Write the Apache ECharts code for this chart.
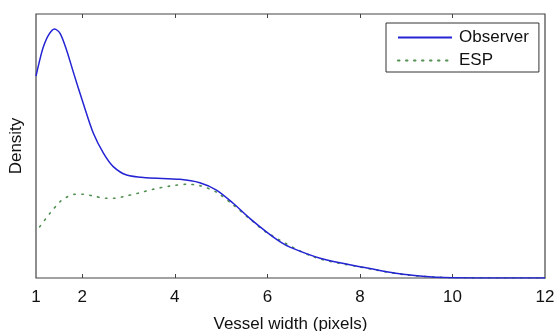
<!DOCTYPE html>
<html>
<head>
<meta charset="utf-8">
<script src="https://cdn.jsdelivr.net/npm/echarts@6/dist/echarts.min.js"></script>
<style>
  html, body { margin: 0; padding: 0; background: #fff; }
  #chart { width: 556px; height: 331px; }
</style>
</head>
<body>
<div id="chart"></div>
<script>
// vessel width (pixels) vs density
const obsX = [1.0, 1.09, 1.16, 1.27, 1.4, 1.52, 1.66, 1.81, 2.02, 2.24, 2.46, 2.67, 2.96, 3.39, 4.11, 4.54, 4.9, 5.26, 5.62, 6.0, 6.27, 6.5, 7.14, 8.0, 8.93, 9.67, 10.0, 11.0, 12.0];
const obsY = [0.765, 0.832, 0.876, 0.92, 0.943, 0.927, 0.864, 0.778, 0.662, 0.548, 0.472, 0.422, 0.39, 0.38, 0.374, 0.361, 0.333, 0.283, 0.226, 0.172, 0.138, 0.116, 0.075, 0.043, 0.014, 0.003, 0.001, 0.0, 0.0];
const espX = [1.08, 1.3, 1.52, 1.66, 1.84, 2.02, 2.2, 2.53, 2.71, 2.88, 3.2, 3.53, 3.89, 4.26, 4.54, 4.9, 5.26, 5.62, 6.0, 7.0, 8.0, 9.0, 10.0, 12.0];
const espY = [0.194, 0.245, 0.289, 0.306, 0.317, 0.317, 0.312, 0.302, 0.302, 0.308, 0.321, 0.336, 0.348, 0.355, 0.35, 0.325, 0.277, 0.224, 0.171, 0.08, 0.042, 0.012, 0.001, 0.0];
const xLabels = [1, 2, 4, 6, 8, 10, 12];
const xTicks = [2, 4, 6, 8, 10];

const zip = (xs, ys) => xs.map((x, i) => [x, ys[i]]);

const font = 'Liberation Sans, Arial, Helvetica, sans-serif';
const chart = echarts.init(document.getElementById('chart'), null, { renderer: 'canvas' });

const tickOpts = {
  show: true,
  inside: true,
  length: 4,
  customValues: xTicks,
  lineStyle: { color: '#444', width: 1 }
};

chart.setOption({
  animation: false,
  grid: {
    left: 36, right: 11, top: 14, bottom: 53,
    outerBoundsMode: 'none',
    show: true, borderColor: '#444', borderWidth: 1.2
  },
  legend: {
    orient: 'vertical',
    left: 386, top: 23,
    padding: [6, 10, 3, 11],
    itemWidth: 54, itemHeight: 17, itemGap: 6,
    borderColor: '#333', borderWidth: 1,
    backgroundColor: '#fff',
    itemStyle: { opacity: 0 },
    textStyle: { fontFamily: font, fontSize: 17, color: '#111', lineHeight: 17, padding: [0, 0, 0, 2] },
    data: ['Observer', 'ESP']
  },
  xAxis: [{
    type: 'value', min: 1, max: 12,
    name: 'Vessel width (pixels)', nameLocation: 'middle', nameGap: 38,
    nameTextStyle: { fontFamily: font, fontSize: 17, color: '#111' },
    axisLine: { show: false },
    axisTick: tickOpts,
    axisLabel: { customValues: xLabels, fontFamily: font, fontSize: 17, color: '#111', margin: 11 },
    splitLine: { show: false }
  }, {
    type: 'value', min: 1, max: 12, position: 'top',
    axisLine: { show: false },
    axisTick: tickOpts,
    axisLabel: { show: false },
    splitLine: { show: false }
  }],
  yAxis: {
    type: 'value', min: 0, max: 1,
    name: 'Density', nameLocation: 'middle', nameGap: 11, nameRotate: 90,
    nameTextStyle: { fontFamily: font, fontSize: 17, color: '#111' },
    axisLine: { show: false },
    axisTick: { show: false },
    axisLabel: { show: false },
    splitLine: { show: false }
  },
  series: [{
    name: 'ESP', type: 'line', z: 2,
    data: zip(espX, espY),
    smooth: 0.3,
    symbol: 'none',
    lineStyle: { color: '#4f8f4f', width: 1.6, type: [1.5, 6.5], cap: 'round' },
    itemStyle: { color: '#4f8f4f' }
  }, {
    name: 'Observer', type: 'line', z: 3,
    data: zip(obsX, obsY),
    smooth: 0.3,
    symbol: 'none',
    lineStyle: { color: '#2424d4', width: 1.5 },
    itemStyle: { color: '#2424d4' }
  }]
});
</script>
</body>
</html>
